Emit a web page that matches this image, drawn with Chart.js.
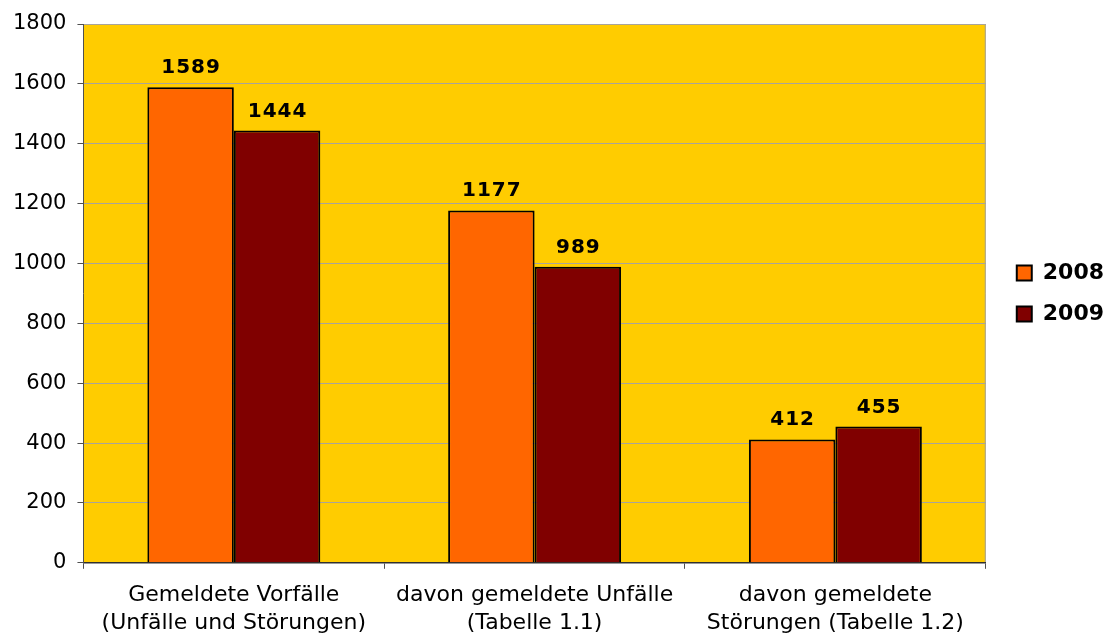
<!DOCTYPE html>
<html>
<head>
<meta charset="utf-8">
<script src="https://cdn.jsdelivr.net/npm/chart.js@4/dist/chart.umd.min.js"></script>
<style>
  html, body { margin: 0; padding: 0; background: #fff; }
  canvas { display: block; }
</style>
</head>
<body>
<canvas id="myChart" width="1119" height="633"></canvas>
<script>
const categories = [
  ["Gemeldete Vorfälle", "(Unfälle und Störungen)"],
  ["davon gemeldete Unfälle", "(Tabelle 1.1)"],
  ["davon gemeldete", "Störungen (Tabelle 1.2)"]
];
const years = ["2008", "2009"];
const values2008 = [1589, 1177, 412];
const values2009 = [1444, 989, 455];
const barColors = ["#ff6600", "#800000"];

// yellow plot background + grey right border
const plotBackground = {
  id: "plotBackground",
  beforeDraw(chart) {
    const a = chart.chartArea;
    const ctx = chart.ctx;
    ctx.save();
    ctx.fillStyle = "#ffcc00";
    ctx.fillRect(a.left, a.top, a.right - a.left, a.bottom - a.top);
    ctx.strokeStyle = "#a0a0a0";
    ctx.lineWidth = 1;
    ctx.beginPath();
    ctx.moveTo(a.right - 0.5, a.top);
    ctx.lineTo(a.right - 0.5, a.bottom);
    ctx.stroke();
    ctx.restore();
  }
};

// nudge the legend a bit away from the plot
const legendShift = {
  id: "legendShift",
  afterLayout(chart) {
    chart.legend.left += 12;
    chart.legend.right += 12;
  }
};

// value labels above the bars
const valueLabels = {
  id: "valueLabels",
  afterDatasetsDraw(chart) {
    const ctx = chart.ctx;
    ctx.save();
    ctx.font = "bold 20px 'DejaVu Sans'";
    ctx.letterSpacing = "1px";
    ctx.fillStyle = "#000";
    ctx.textAlign = "center";
    ctx.textBaseline = "alphabetic";
    chart.data.datasets.forEach((ds, i) => {
      chart.getDatasetMeta(i).data.forEach((bar, j) => {
        ctx.fillText(String(ds.data[j]), bar.x + 0.5, bar.y - 14);
      });
    });
    ctx.restore();
  }
};

new Chart("myChart", {
  type: "bar",
  data: {
    labels: categories,
    datasets: [{
      label: years[0],
      data: values2008,
      backgroundColor: barColors[0],
      borderColor: "#000",
      borderWidth: 2
    }, {
      label: years[1],
      data: values2009,
      backgroundColor: barColors[1],
      borderColor: "#000",
      borderWidth: 2
    }]
  },
  options: {
    responsive: false,
    animation: false,
    devicePixelRatio: 1,
    layout: { padding: { left: 2, top: 24, right: 17, bottom: -17 } },
    datasets: { bar: { categoryPercentage: 0.575, barPercentage: 1.0 } },
    plugins: {
      legend: {
        position: "right",
        fullSize: false,
        labels: {
          boxWidth: 15,
          boxHeight: 15,
          padding: 19,
          color: "#000",
          font: { family: "DejaVu Sans", size: 22, weight: "bold" }
        }
      },
      tooltip: { enabled: false }
    },
    scales: {
      x: {
        grid: { drawOnChartArea: false, drawTicks: true, tickLength: 6, color: "#505050", offset: true },
        border: { color: "#303030", width: 1.5 },
        ticks: { color: "#000", padding: 12, maxRotation: 0, autoSkip: false,
                 font: { family: "DejaVu Sans", size: 22, lineHeight: 1.3 } }
      },
      y: {
        min: 0,
        max: 1800,
        ticks: { stepSize: 200, color: "#000", padding: 11, font: { family: "DejaVu Sans", size: 21 },
                 callback: v => String(v) },
        grid: { color: "#a8a49a", tickLength: 6, tickColor: "#505050" },
        border: { color: "#505050" }
      }
    }
  },
  plugins: [plotBackground, legendShift, valueLabels]
});
</script>
</body>
</html>
